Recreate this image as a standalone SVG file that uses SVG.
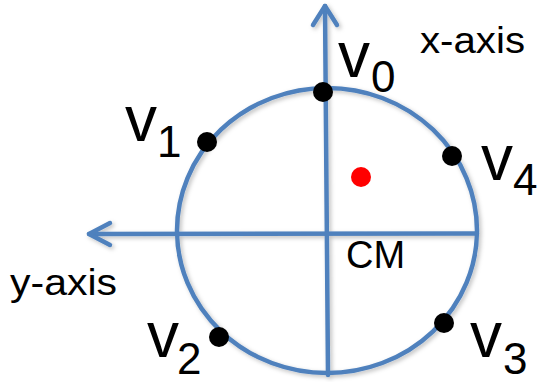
<svg xmlns="http://www.w3.org/2000/svg" width="543" height="382" viewBox="0 0 543 382">
<defs>
<style>
.ax{fill:none;stroke:#4f81bd;stroke-width:4.5;stroke-linecap:round;stroke-linejoin:round}
.dot{fill:#000}
.lbl{font-family:"Liberation Sans",Arial,sans-serif;fill:#000}
.v{font-size:64px}
.sub{font-size:44px}
.ax-t{font-size:37px}
</style>
<filter id="sh" x="-10%" y="-10%" width="120%" height="120%">
<feDropShadow dx="2" dy="2" stdDeviation="2" flood-color="#000" flood-opacity="0.25"/>
</filter>
</defs>
<rect width="543" height="382" fill="#fff"/>
<g id="connectors" filter="url(#sh)">
<ellipse class="ax" cx="327" cy="230.5" rx="150" ry="142.5"/>
<line class="ax" x1="328" y1="375" x2="325" y2="6"/>
<polyline class="ax" points="313,25 325,6 337,25"/>
<line class="ax" x1="477" y1="233.5" x2="89" y2="234"/>
<polyline class="ax" points="110,223 89,234 110,245"/>
</g>
<g id="v0"><circle class="dot" cx="323" cy="92" r="10"/><text class="lbl v" x="338" y="77">v</text><text class="lbl sub" x="371" y="92">0</text></g>
<g id="v1"><circle class="dot" cx="207" cy="142" r="10"/><text class="lbl v" x="125" y="141">v</text><text class="lbl sub" x="157" y="157">1</text></g>
<g id="v2"><circle class="dot" cx="219" cy="337" r="10"/><text class="lbl v" x="147" y="357">v</text><text class="lbl sub" x="177" y="374">2</text></g>
<g id="v3"><circle class="dot" cx="444" cy="323" r="10"/><text class="lbl v" x="470" y="357">v</text><text class="lbl sub" x="503" y="374">3</text></g>
<g id="v4"><circle class="dot" cx="452" cy="156" r="10"/><text class="lbl v" x="481" y="180">v</text><text class="lbl sub" x="513" y="195">4</text></g>
<g id="com"><circle cx="361" cy="177" r="10" fill="#ff0000"/></g>
<g id="cm"><text class="lbl" x="346" y="268" font-size="38">CM</text></g>
<g id="x-axis"><text class="lbl ax-t" x="420" y="53" textLength="105" lengthAdjust="spacingAndGlyphs">x-axis</text></g>
<g id="y-axis"><text class="lbl ax-t" x="10" y="295" textLength="107" lengthAdjust="spacingAndGlyphs">y-axis</text></g>
</svg>
